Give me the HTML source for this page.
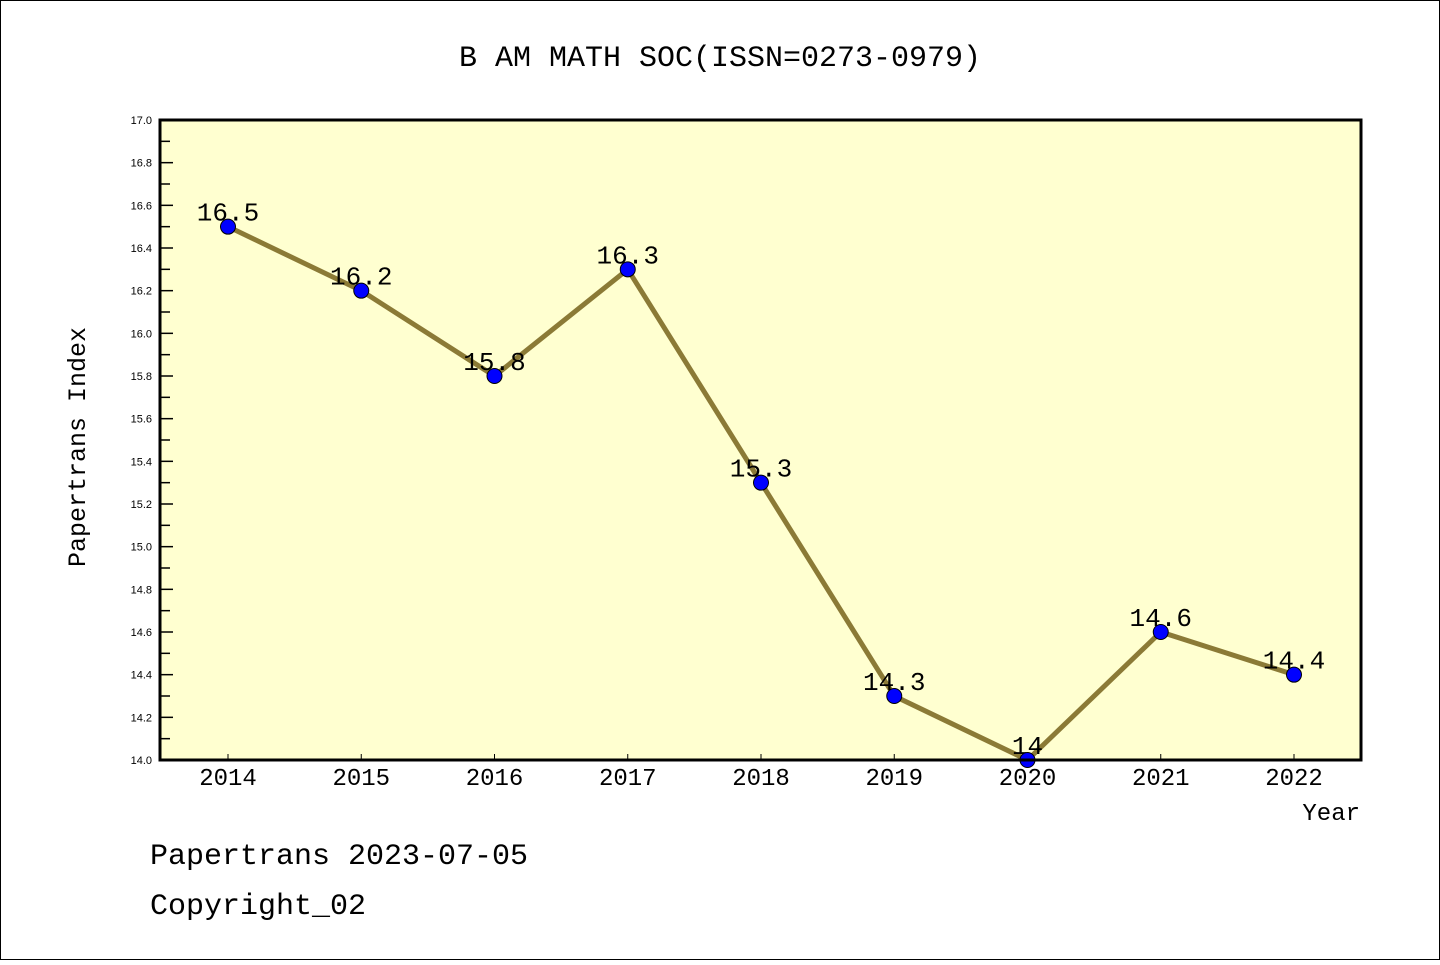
<!DOCTYPE html>
<html><head><meta charset="utf-8"><style>
body{margin:0;background:#fff}
svg text{font-family:"Liberation Mono","WenQuanYi Zen Hei",monospace;fill:#000}
svg text.sm{font-family:"Liberation Sans",sans-serif}
</style></head><body>
<svg width="1440" height="960" viewBox="0 0 1440 960">
<rect x="0.5" y="0.5" width="1439" height="959" fill="#fff" stroke="#000"/>
<text x="720" y="66" font-size="30" text-anchor="middle">B AM MATH SOC(ISSN=0273-0979)</text>
<rect x="160" y="120" width="1201" height="640" fill="#ffffd0"/>
<g id="yaxis"></g>
<g id="xaxis"></g>
<g id="series"></g>
<rect x="160" y="120" width="1201" height="640" fill="none" stroke="#000" stroke-width="3"/>
<text transform="translate(85,447) rotate(-90)" font-size="25" text-anchor="middle">Papertrans Index</text>
<text x="1360" y="820" font-size="24" text-anchor="end">Year</text>
<text x="150" y="864" font-size="30">Papertrans 2023-07-05</text>
<text x="150" y="914" font-size="30">Copyright_02</text>
</svg>
<script>
const years = [2014,2015,2016,2017,2018,2019,2020,2021,2022];
const values = [16.5,16.2,15.8,16.3,15.3,14.3,14.0,14.6,14.4];
const valueLabels = ["16.5","16.2","15.8","16.3","15.3","14.3","14","14.6","14.4"];
const yTicks = [14.0,14.2,14.4,14.6,14.8,15.0,15.2,15.4,15.6,15.8,16.0,16.2,16.4,16.6,16.8,17.0];
const NS="http://www.w3.org/2000/svg";
const yMin=14,yMax=17,plotTop=120,plotBot=760;
function yS(v){return plotBot-(v-yMin)/(yMax-yMin)*(plotBot-plotTop);}
function xS(i){return 228+i*(1294-228)/(years.length-1);}
function mk(tag,attrs,parent){const e=document.createElementNS(NS,tag);for(const k in attrs)e.setAttribute(k,attrs[k]);parent.appendChild(e);return e;}
const ya=document.getElementById('yaxis'),xa=document.getElementById('xaxis'),sg=document.getElementById('series');
yTicks.forEach((t,i)=>{
  const l=mk('line',{x1:160,x2:173,y1:yS(t),y2:yS(t),stroke:'#000','stroke-width':1.5},ya);
  
  
  const tx=mk('text',{x:152,y:yS(t)+4,'font-size':11,'text-anchor':'end','class':'sm'},ya);
  tx.textContent=t.toFixed(1);
  
  
  if(i<yTicks.length-1){
    const m=mk('line',{x1:160,x2:170,y1:yS(t+0.1),y2:yS(t+0.1),stroke:'#000','stroke-width':1.5},ya);
    
    
  }
});
years.forEach((yr,i)=>{
  const l=mk('line',{x1:xS(i),x2:xS(i),y1:760,y2:754,stroke:'#000','stroke-width':1},xa);
  
  
  const tx=mk('text',{x:xS(i),y:785,'font-size':24,'text-anchor':'middle'},xa);
  tx.textContent=yr;
  
  
});
const pl=mk('polyline',{points:values.map((v,i)=>xS(i)+','+yS(v)).join(' '),fill:'none',stroke:'#8b7a36','stroke-width':5},sg);


values.forEach((v,i)=>{
  const t=mk('text',{x:xS(i),y:yS(v)-6,'font-size':26,'text-anchor':'middle'},sg);
  t.textContent=valueLabels[i];
  
  
});
values.forEach((v,i)=>{
  const c=mk('circle',{cx:xS(i),cy:yS(v),r:7.5,fill:'#0000ff',stroke:'#000','stroke-width':1},sg);
  
  
});
</script>
</body></html>
